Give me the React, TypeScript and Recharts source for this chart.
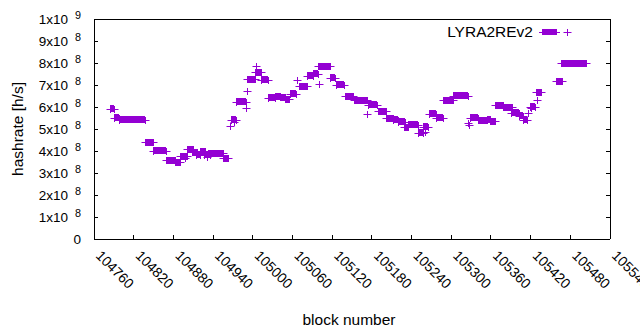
import React from 'react';
import { ComposedChart, XAxis, YAxis, Scatter, ReferenceLine, Legend } from 'recharts';

const PURPLE = '#9400d3';
const FONT = '"Liberation Sans", Arial, sans-serif';

const xTicks = [104760, 104820, 104880, 104940, 105000, 105060, 105120, 105180, 105240, 105300, 105360, 105420, 105480, 105540];
const yTicks = [0, 1e8, 2e8, 3e8, 4e8, 5e8, 6e8, 7e8, 8e8, 9e8, 1e9];

// runs of consecutive blocks at the same hashrate (x1e8 h/s)
const runStart = [104784, 104790, 104798, 104837, 104849, 104869, 104882, 104890, 104901, 104908, 104914, 104920, 104926, 104932, 104955, 104967, 104975, 104991, 105003, 105012, 105023, 105034, 105041, 105049, 105056, 105070, 105082, 105091, 105099, 105117, 105126, 105139, 105153, 105174, 105189, 105201, 105212, 105220, 105229, 105235, 105250, 105257, 105266, 105277, 105288, 105303, 105328, 105340, 105354, 105359, 105366, 105378, 105390, 105402, 105408, 105419, 105428, 105458, 105466];
const runEnd = [104790, 104798, 104837, 104849, 104869, 104882, 104890, 104901, 104910, 104916, 104920, 104928, 104935, 104955, 104963, 104975, 104990, 105003, 105012, 105023, 105034, 105041, 105049, 105055, 105065, 105082, 105091, 105099, 105117, 105124, 105138, 105151, 105173, 105188, 105201, 105212, 105220, 105230, 105235, 105250, 105257, 105265, 105277, 105288, 105303, 105325, 105340, 105354, 105359, 105366, 105378, 105392, 105402, 105408, 105414, 105427, 105436, 105467, 105504];
const runRate = [5.93, 5.52, 5.43, 4.39, 4.02, 3.59, 3.5, 3.77, 4.09, 3.95, 3.84, 4.0, 3.82, 3.89, 3.68, 5.43, 6.25, 7.27, 7.57, 7.23, 6.43, 6.48, 6.45, 6.36, 6.61, 6.95, 7.43, 7.52, 7.86, 7.34, 7.02, 6.5, 6.3, 6.11, 5.8, 5.48, 5.43, 5.34, 5.07, 5.2, 4.84, 5.11, 5.7, 5.52, 6.3, 6.52, 5.52, 5.39, 5.45, 5.36, 6.07, 5.98, 5.73, 5.61, 5.43, 6.02, 6.68, 7.18, 7.98];

// single blocks off the runs
const strayBlock = [104898, 104931, 104966, 104972, 104990, 104991, 105005, 105067, 105100, 105173, 105260, 105325, 105327, 105416, 105421, 105430];
const strayRate = [3.68, 3.72, 5.14, 5.32, 5.95, 6.73, 7.86, 7.23, 7.05, 5.68, 4.86, 5.27, 5.18, 5.73, 5.95, 6.32];

const runs = runStart.map((s, i) => ({ start: s, end: runEnd[i], hashrate: runRate[i] * 1e8 }));
const points = [
  ...runs.flatMap((r) => [
    { block: r.start, hashrate: r.hashrate },
    { block: r.end, hashrate: r.hashrate },
  ]),
  ...strayBlock.map((b, i) => ({ block: b, hashrate: strayRate[i] * 1e8 })),
];

const Plus = (props: any) => {
  const { cx, cy } = props;
  if (cx == null || cy == null) return <g />;
  const x = Math.round(cx) + 0.5;
  const y = Math.round(cy) + 0.5;
  return (
    <path d={`M${x - 4},${y}H${x + 4}M${x},${y - 3.5}V${y + 3.5}`} stroke={PURPLE} strokeWidth={1} fill="none" />
  );
};

const YTick = (props: any) => {
  const { x, y, payload } = props;
  const v = payload.value;
  if (v === 0) {
    return (
      <text x={x} y={y} dy="0.35em" textAnchor="end" fontSize={13.5} fontFamily={FONT} fill="#000">
        0
      </text>
    );
  }
  const exp = Math.floor(Math.log10(v) + 1e-9);
  const m = Math.round(v / Math.pow(10, exp));
  return (
    <text x={x} y={y} dy="0.35em" textAnchor="end" fontSize={13.5} fontFamily={FONT} fill="#000">
      {`${m}x10`}
      <tspan dx={7} dy={-5} fontSize={10.8}>{exp}</tspan>
    </text>
  );
};

const XTick = (props: any) => {
  const { x, y, payload } = props;
  const tx = x + 4.5;
  return (
    <text x={tx} y={y} dy="0.35em" textAnchor="start" fontSize={14} fontFamily={FONT} fill="#000" transform={`rotate(45 ${tx} ${y})`}>
      {payload.value}
    </text>
  );
};

const NoTick = () => <g />;

const KeyBox = () => (
  <svg width={180} height={24} style={{ display: 'block' }}>
    <text x={103} y={12} dy="0.35em" textAnchor="end" fontSize={15.5} fontFamily={FONT} fill="#000">
      LYRA2REv2
    </text>
    <line x1={109} x2={130} y1={12.5} y2={12.5} stroke={PURPLE} />
    <rect x={112} y={9} width={15} height={6} fill={PURPLE} />
    <path d="M133.5,12.5H141.5M137.5,9V16" stroke={PURPLE} fill="none" />
  </svg>
);

export default function App() {
  return (
    <div style={{ position: 'absolute', left: 0, top: 0, background: '#fff' }}>
      <style>{`svg line { shape-rendering: crispEdges; }`}</style>
      <ComposedChart width={640} height={330} margin={{ top: 0, right: 0, bottom: 0, left: 0 }}>
        <XAxis
          xAxisId="b"
          dataKey="block"
          type="number"
          domain={[104760, 105540]}
          ticks={xTicks}
          height={91}
          tickSize={-4}
          tickMargin={18}
          interval={0}
          tick={<XTick />}
          axisLine={{ stroke: '#000' }}
          tickLine={{ stroke: '#000' }}
          allowDataOverflow
          label={{ value: 'block number', position: 'insideBottom', offset: 5, fontSize: 15.5, fontFamily: FONT, fill: '#000', dx: -3 }}
        />
        <XAxis
          xAxisId="t"
          orientation="top"
          type="number"
          domain={[104760, 105540]}
          ticks={xTicks}
          height={19}
          tickSize={-4}
          interval={0}
          tick={NoTick}
          axisLine={{ stroke: '#000' }}
          tickLine={{ stroke: '#000' }}
          allowDataOverflow
        />
        <YAxis
          yAxisId="l"
          dataKey="hashrate"
          type="number"
          domain={[0, 1e9]}
          ticks={yTicks}
          width={94}
          tickSize={-4}
          tickMargin={17}
          interval={0}
          tick={<YTick />}
          axisLine={{ stroke: '#000' }}
          tickLine={{ stroke: '#000' }}
          allowDataOverflow
          label={{ value: 'hashrate [h/s]', angle: -90, position: 'insideLeft', offset: 17, style: { textAnchor: 'middle' }, fontSize: 15.5, fontFamily: FONT, fill: '#000' }}
        />
        <YAxis
          yAxisId="r"
          orientation="right"
          type="number"
          domain={[0, 1e9]}
          ticks={yTicks}
          width={30}
          tickSize={-4}
          interval={0}
          tick={NoTick}
          axisLine={{ stroke: '#000' }}
          tickLine={{ stroke: '#000' }}
          allowDataOverflow
        />
        {runs.map((r, i) => (
          <ReferenceLine
            key={i}
            xAxisId="b"
            yAxisId="l"
            segment={[
              { x: r.start, y: r.hashrate },
              { x: r.end, y: r.hashrate },
            ]}
            stroke={PURPLE}
            strokeWidth={7}
          />
        ))}
        <Scatter
          name="LYRA2REv2"
          xAxisId="b"
          yAxisId="l"
          data={points}
          dataKey="hashrate"
          shape={Plus}
          isAnimationActive={false}
        />
        <Legend
          layout="vertical"
          align="center"
          verticalAlign="middle"
          content={() => <KeyBox />}
          wrapperStyle={{ position: 'absolute', left: 430, top: 20, width: 180, height: 24 }}
        />
      </ComposedChart>
    </div>
  );
}
